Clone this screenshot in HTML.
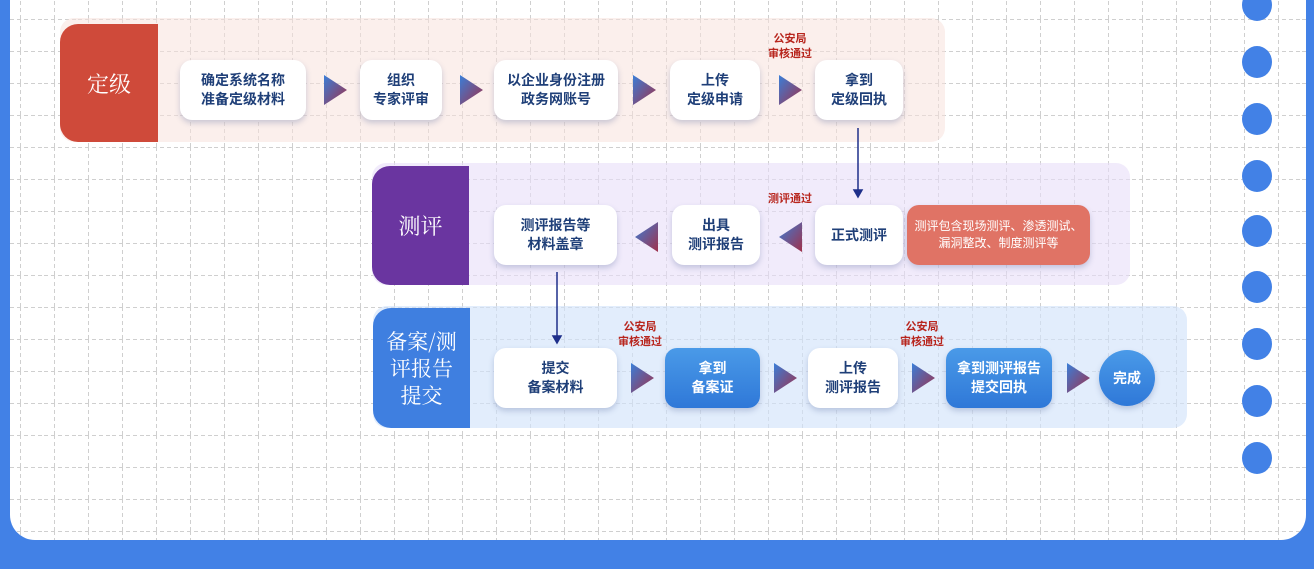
<!DOCTYPE html>
<html><head><meta charset="utf-8"><style>
*{margin:0;padding:0;box-sizing:border-box}
body{width:1314px;height:569px;background:#4281e6;position:relative;overflow:hidden;font-family:"Liberation Sans","Noto Sans CJK SC",sans-serif}
.panel{position:absolute;left:10px;top:-30px;width:1296px;height:570px;background:#fff;border-radius:25px;overflow:hidden}
.a{position:absolute}
.band{position:absolute;border-radius:14px}
.lab{position:absolute;color:#fff;display:flex;align-items:center;justify-content:center;text-align:center;border-radius:18px 0 0 18px;font-family:"Noto Serif CJK SC",serif}
.n{position:absolute;background:#fff;border-radius:12px;box-shadow:0 3px 6px rgba(60,80,140,.25);display:flex;align-items:center;justify-content:center;text-align:center;font-weight:bold;font-size:14px;line-height:19px;color:#1f3f78}
.b{background:linear-gradient(#4a9ae8,#2f78d8);color:#fff}
.t{position:absolute;color:#b8261e;font-size:11px;line-height:15px;text-align:center;font-weight:bold}
.dot{position:absolute;width:30px;height:32px;border-radius:50%;background:#4281e6;left:1242px}
</style></head><body>
<div class="panel">
<svg width="1296" height="570" style="position:absolute;left:0;top:0">
<defs><pattern id="p" width="34" height="32" patternUnits="userSpaceOnUse" x="0" y="17">
<line x1="0" y1="0.5" x2="34" y2="0.5" stroke="#cfcfcf" stroke-width="1" stroke-dasharray="4 3"/>
<line x1="10.5" y1="0" x2="10.5" y2="32" stroke="#cfcfcf" stroke-width="1" stroke-dasharray="4 3"/>
</pattern></defs>
<rect x="0" y="0" width="1296" height="570" fill="url(#p)"/>
</svg>
</div>
<div class="band" style="left:60px;top:18px;width:885px;height:124px;background:rgba(248,225,220,.55)"></div>
<div class="band" style="left:372px;top:163px;width:758px;height:122px;background:rgba(232,222,248,.6)"></div>
<div class="band" style="left:373px;top:306px;width:814px;height:122px;background:rgba(210,228,250,.65)"></div>
<div class="lab" style="left:60px;top:24px;width:98px;height:118px;background:#cf4a3a;font-size:22px">定级</div>
<div class="lab" style="left:372px;top:166px;width:97px;height:119px;background:#6a35a0;font-size:22px">测评</div>
<div class="lab" style="left:373px;top:308px;width:97px;height:120px;background:#3f7fe0;font-size:21px;line-height:27px">备案/测<br>评报告<br>提交</div>

<div class="n" style="left:180px;top:60px;width:126px;height:60px">确定系统名称<br>准备定级材料</div>
<div class="n" style="left:360px;top:60px;width:82px;height:60px">组织<br>专家评审</div>
<div class="n" style="left:494px;top:60px;width:124px;height:60px">以企业身份注册<br>政务网账号</div>
<div class="n" style="left:670px;top:60px;width:90px;height:60px">上传<br>定级申请</div>
<div class="n" style="left:815px;top:60px;width:88px;height:60px">拿到<br>定级回执</div>
<div class="t" style="left:760px;top:32px;width:60px">公安局<br>审核通过</div>

<div class="n" style="left:494px;top:205px;width:123px;height:60px">测评报告等<br>材料盖章</div>
<div class="n" style="left:672px;top:205px;width:88px;height:60px">出具<br>测评报告</div>
<div class="n" style="left:815px;top:205px;width:88px;height:60px">正式测评</div>
<div class="n" style="left:907px;top:205px;width:183px;height:60px;background:#e07365;color:#fff;font-size:12px;line-height:17px;font-weight:normal">测评包含现场测评、渗透测试、<br>漏洞整改、制度测评等</div>
<div class="t" style="left:760px;top:192px;width:60px">测评通过</div>

<div class="n" style="left:494px;top:348px;width:123px;height:60px">提交<br>备案材料</div>
<div class="n b" style="left:665px;top:348px;width:95px;height:60px">拿到<br>备案证</div>
<div class="n" style="left:808px;top:348px;width:90px;height:60px">上传<br>测评报告</div>
<div class="n b" style="left:946px;top:348px;width:106px;height:60px">拿到测评报告<br>提交回执</div>
<div class="n b" style="left:1099px;top:350px;width:56px;height:56px;border-radius:50%">完成</div>
<div class="t" style="left:610px;top:320px;width:60px">公安局<br>审核通过</div>
<div class="t" style="left:892px;top:320px;width:60px">公安局<br>审核通过</div>

<svg class="a" style="left:0;top:0" width="1314" height="569">
<defs><linearGradient id="h" x1="0" y1="0" x2="1" y2="1"><stop offset="0" stop-color="#3a7ed8"/><stop offset="1" stop-color="#a0304a"/></linearGradient></defs>
<g fill="url(#h)">
<path d="M324 75 L347 90 L324 105 Z"/><path d="M460 75 L483 90 L460 105 Z"/><path d="M633 75 L656 90 L633 105 Z"/><path d="M779 75 L802 90 L779 105 Z"/>
<path d="M658 222 L635 237 L658 252 Z"/><path d="M802 222 L779 237 L802 252 Z"/>
<path d="M631 363 L654 378 L631 393 Z"/><path d="M774 363 L797 378 L774 393 Z"/><path d="M912 363 L935 378 L912 393 Z"/><path d="M1067 363 L1090 378 L1067 393 Z"/>
</g>
<g stroke="#1e2f8a" stroke-width="1.5" fill="#1e2f8a">
<line x1="858" y1="128" x2="858" y2="192"/><path d="M854 190 L862 190 L858 197 Z"/>
<line x1="557" y1="272" x2="557" y2="338"/><path d="M553 336 L561 336 L557 343 Z"/>
</g>
</svg>
<div class="dot" style="top:-11px"></div><div class="dot" style="top:46px"></div><div class="dot" style="top:103px"></div><div class="dot" style="top:160px"></div><div class="dot" style="top:215px"></div><div class="dot" style="top:271px"></div><div class="dot" style="top:328px"></div><div class="dot" style="top:385px"></div><div class="dot" style="top:442px"></div>
</body></html>
